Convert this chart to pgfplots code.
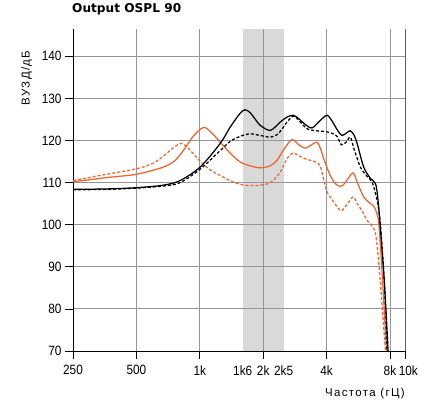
\documentclass[border=0pt]{standalone}
\usepackage{pgfplots}
\pgfplotsset{compat=1.18}
\usepackage{fontspec}
\setmainfont{Liberation Sans}
\newfontfamily\tickfont{Liberation Sans}[FakeStretch=0.88]
\newfontfamily\titlefont{DejaVu Sans}
\newfontfamily\labelfont{Liberation Sans}[LetterSpace=12]

\definecolor{curveorange}{RGB}{240,98,46}
\definecolor{bandgray}{RGB}{217,217,217}
\definecolor{gridgray}{RGB}{150,150,150}
\definecolor{edgegray}{RGB}{95,95,95}

% Frequency responses (Hz, dB SPL)
\pgfplotstableread{
f db
250 108.4
362 108.5
502 108.8
672 109.4
807 110.5
1004 113.7
1250 119.3
1395 123.2
1556 126.5
1644 127.3
1736 126.6
1850 124.8
1937 123.6
2161 122.4
2412 124.4
2600 125.6
2781 126.0
2950 125.2
3171 123.8
3413 123.0
3737 124.8
4036 126.0
4324 124.0
4487 122.6
4740 121.2
5000 121.9
5191 122.3
5400 121.3
5587 119.3
6004 113.7
6462 111.0
6825 109.8
7000 106.5
7210 99.0
7532 86.0
7843 70.0
}\blacksolid

\pgfplotstableread{
f db
250 108.3
362 108.4
502 108.7
672 109.2
807 110.0
1004 113.2
1250 117.6
1395 119.8
1556 121.0
1736 121.6
1937 121.2
2161 120.8
2326 121.4
2450 122.6
2595 124.4
2781 125.8
2950 124.8
3231 122.8
3600 122.3
3875 122.2
4200 121.8
4487 121.0
4700 119.0
4950 119.6
5191 120.8
5400 118.0
5791 113.7
6200 111.6
6583 110.1
6954 105.8
7210 100.0
7532 86.0
7760 70.0
}\blackdashed

\pgfplotstableread{
f db
250 110.2
362 111.2
502 112.0
672 113.7
760 115.2
837 117.7
930 121.0
1041 123.1
1130 122.0
1250 119.6
1395 117.0
1556 114.9
1736 114.0
1937 113.5
2161 114.0
2326 115.3
2500 117.8
2692 120.0
2800 120.1
2950 119.0
3171 118.2
3400 119.0
3605 119.6
3750 118.0
3875 115.7
4200 111.3
4487 109.4
4740 109.2
5000 110.6
5347 112.3
5600 110.0
6004 106.6
6400 105.2
6699 104.4
6900 103.0
7076 100.5
7250 93.0
7427 84.4
7700 70.0
}\orangesolid

\pgfplotstableread{
f db
250 110.5
362 112.0
502 113.3
600 114.6
672 116.3
750 118.3
822 119.3
900 117.7
1004 115.1
1120 113.0
1250 111.7
1400 110.4
1556 109.6
1736 109.3
1937 109.4
2161 110.0
2412 112.5
2600 115.8
2760 117.0
2950 116.4
3150 115.7
3350 115.3
3600 114.8
3737 113.8
3875 110.8
4022 107.8
4324 105.4
4600 103.6
4740 103.4
5000 104.8
5347 106.6
5600 105.0
6004 102.6
6232 101.0
6600 99.6
6825 98.0
7000 93.5
7210 86.0
7616 70.0
}\orangedashed

\begin{document}
\begin{tikzpicture}
\begin{axis}[
  set layers,
  scale only axis,
  width=332bp, height=322bp,
  xmode=log,
  xmin=250, xmax=9430,
  ymin=70, ymax=146.5,
  axis x line*=bottom,
  axis y line*=left,
  axis line style={black, line width=0.9bp, -},
  xtick={250,500,1000,2000,4000,8000,9430},
  xticklabels={250,500,1k,2k,4k,8k,\hphantom{0}10k},
  extra x ticks={1600,2500},
  extra x tick labels={1k6,2k5},
  extra x tick style={grid=none, tick style={draw=none}},
  ytick={70,80,...,140},
  tick align=outside,
  major tick length=8bp,
  tick style={black, line width=0.8bp},
  grid=major,
  major grid style={gridgray, line width=0.9bp},
  /pgf/number format/assume math mode=true,
  tick label style={font=\tickfont\fontsize{13.5}{15}\selectfont},
  xticklabel style={yshift=-3bp},
  log ticks with fixed point,
  title={Output OSPL 90},
  title style={font=\titlefont\bfseries\fontsize{12.2}{14}\selectfont,
    at={(rel axis cs:0,1)}, anchor=base west, inner sep=0pt,
    yshift=10.7bp, xshift=-1bp},
  ylabel={ВУЗД/дБ},
  ylabel style={font=\labelfont\fontsize{11.5}{13}\selectfont,
    at={(rel axis cs:-0.14,0.848)}, anchor=center},
  xlabel={Частота (гЦ)},
  xlabel style={font=\labelfont\fontsize{11.5}{13}\selectfont,
    at={(rel axis cs:1,0)}, anchor=north east, inner sep=0pt, yshift=-37bp},
  clip=false,
]
% 1.6--2.5 kHz band
\addplot[fill=bandgray, draw=none, forget plot, on layer=axis background]
  coordinates {(1600,70) (1600,146.5) (2500,146.5) (2500,70)} -- cycle;
% right frame edge at the top frequency
\addplot[edgegray, line width=0.9bp, forget plot]
  coordinates {(9430,70) (9430,146.5)};

\addplot[curveorange, line width=1.25bp, smooth, tension=0.5,
  dash pattern=on 3bp off 2bp] table[x=f, y=db] {\orangedashed};
\addplot[curveorange, line width=1.25bp, smooth, tension=0.5]
  table[x=f, y=db] {\orangesolid};
\addplot[black, line width=1.25bp, smooth, tension=0.5,
  dash pattern=on 3bp off 2bp] table[x=f, y=db] {\blackdashed};
\addplot[black, line width=1.25bp, smooth, tension=0.5]
  table[x=f, y=db] {\blacksolid};
\end{axis}
\path (current axis.south west) ++(-73bp,-50bp) rectangle ++(435bp,401bp);
\end{tikzpicture}
\end{document}
